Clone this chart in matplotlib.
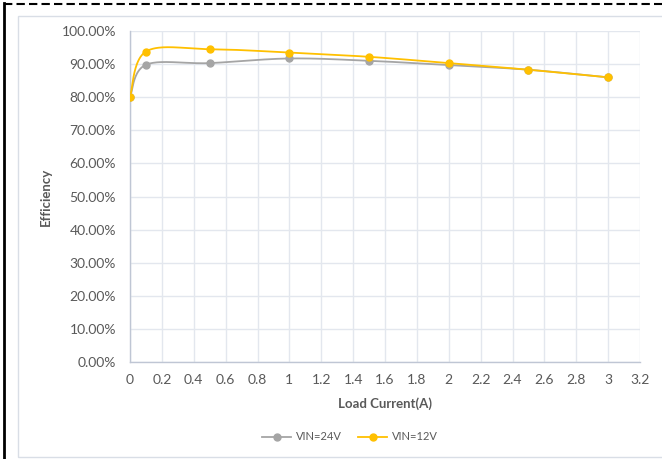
import numpy as np
import matplotlib
matplotlib.use("Agg")
import matplotlib.pyplot as plt
from matplotlib.lines import Line2D
from matplotlib.patches import Rectangle

plt.rcParams['font.family'] = ['Lato', 'DejaVu Sans']

load_current = [0, 0.1, 0.5, 1.0, 1.5, 2.0, 2.5, 3.0]
eff_24v = [0.80, 0.898, 0.903, 0.917, 0.910, 0.897, 0.883, 0.860]
eff_12v = [0.80, 0.938, 0.945, 0.935, 0.922, 0.903, 0.883, 0.860]
series_names = ["VIN=24V", "VIN=12V"]
x_ticks = [0, 0.2, 0.4, 0.6, 0.8, 1, 1.2, 1.4, 1.6, 1.8, 2, 2.2, 2.4, 2.6, 2.8, 3, 3.2]
x_tick_labels = ["0", "0.2", "0.4", "0.6", "0.8", "1", "1.2", "1.4", "1.6", "1.8", "2",
                 "2.2", "2.4", "2.6", "2.8", "3", "3.2"]
y_ticks = [i / 10 for i in range(11)]
y_tick_labels = [f"{v*100:.2f}%" for v in y_ticks]

C24 = "#A5A5A5"
C12 = "#FFC000"
TXT = "#595959"
GRID = "#E3E7EE"


def smooth(xs, ys, n=40):
    # Excel-like smoothing: cubic Bezier through points with Catmull-Rom tangents
    xs = np.asarray(xs, float)
    ys = np.asarray(ys, float)
    P = np.column_stack([xs, ys])
    out = []
    m = len(P)
    for i in range(m - 1):
        p0 = P[i - 1] if i > 0 else P[i]
        p1 = P[i]
        p2 = P[i + 1]
        p3 = P[i + 2] if i + 2 < m else P[i + 1]
        c1 = p1 + (p2 - p0) / 6.0
        c2 = p2 - (p3 - p1) / 6.0
        t = np.linspace(0, 1, n)[:, None]
        seg = ((1 - t) ** 3) * p1 + 3 * ((1 - t) ** 2) * t * c1 + 3 * (1 - t) * t ** 2 * c2 + t ** 3 * p2
        out.append(seg if i == 0 else seg[1:])
    S = np.vstack(out)
    return S[:, 0], S[:, 1]


fig = plt.figure(figsize=(6.62, 4.59), dpi=100)
ax = fig.add_axes([130 / 662, 1 - 362 / 459, 510 / 662, 331 / 459])

for ys, c in [(eff_24v, C24), (eff_12v, C12)]:
    sx, sy = smooth(load_current, ys)
    ax.plot(sx, sy, color=c, lw=1.3, zorder=3, solid_capstyle='round')
    ax.plot(load_current, ys, 'o', color=c, ms=5, zorder=4)

ax.set_xlim(0, 3.2)
ax.set_ylim(0, 1.0)
ax.set_xticks(x_ticks)
ax.set_xticklabels(x_tick_labels)
ax.set_yticks(y_ticks)
ax.set_yticklabels(y_tick_labels)
ax.grid(True, color=GRID, lw=1)
ax.set_axisbelow(True)
for s in ['top', 'right']:
    ax.spines[s].set_visible(False)
for s in ['left', 'bottom']:
    ax.spines[s].set_color("#BFC6D4")
    ax.spines[s].set_linewidth(1)
ax.tick_params(length=0, labelsize=10, colors=TXT, pad=9)
ax.tick_params(axis='y', pad=10)
ax.set_xlabel("Load Current(A)", fontsize=9.5, fontweight='bold', color=TXT, labelpad=8)
ax.set_ylabel("Efficiency", fontsize=9.5, fontweight='bold', color=TXT)
ax.yaxis.set_label_coords((52 - 130) / 510, 0.5)

handles = [Line2D([0], [0], color=C24, marker='o', ms=5, lw=1.3),
           Line2D([0], [0], color=C12, marker='o', ms=5, lw=1.3)]
fig.legend(handles, series_names, loc='center', bbox_to_anchor=(350 / 662, 1 - 437 / 459),
           ncol=2, frameon=False, fontsize=8, labelcolor=TXT, handlelength=2.6,
           columnspacing=1.5, handletextpad=0.4)

# chart area border
fig.patches.append(Rectangle((18 / 662, 1 - 457 / 459), 700 / 662, 441 / 459,
                             transform=fig.transFigure, fill=False, edgecolor="#D9DEE6", lw=1))
# outer page border: solid left, dashed top
fig.lines.append(Line2D([3.5 / 662, 3.5 / 662], [0, 1 - 3 / 459], transform=fig.transFigure,
                        color='black', lw=2))
fig.lines.append(Line2D([3.5 / 662, 1], [1 - 4 / 459, 1 - 4 / 459], transform=fig.transFigure,
                        color='black', lw=1.5, ls=(0, (4, 2))))

fig.savefig("out.png", dpi=100)
